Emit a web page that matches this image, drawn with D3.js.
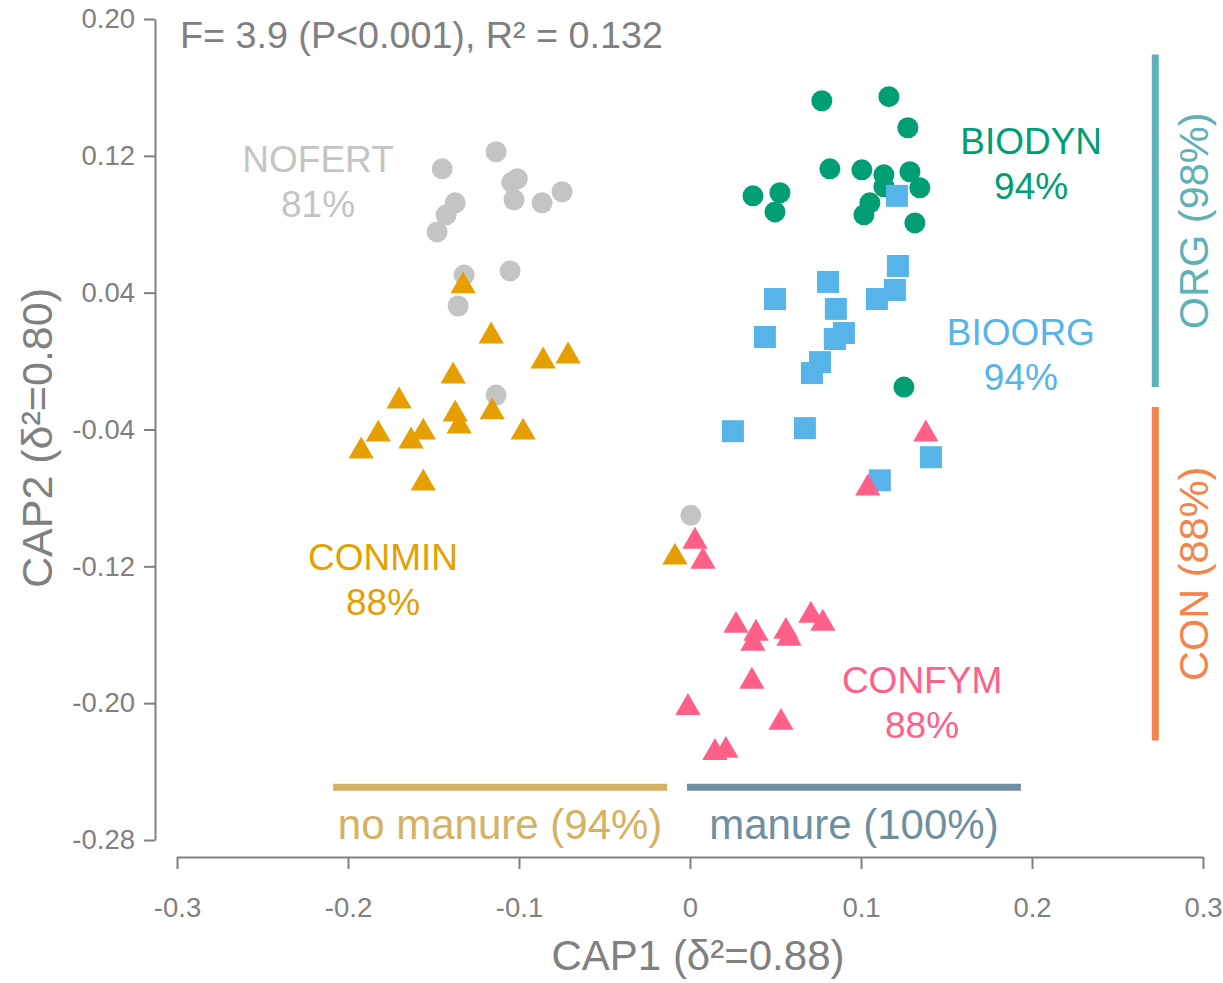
<!DOCTYPE html>
<html>
<head>
<meta charset="utf-8">
<script src="https://cdn.jsdelivr.net/npm/d3@7"></script>
<style>
  html, body { margin: 0; padding: 0; background: #ffffff; }
  svg { display: block; font-family: "Liberation Sans", Arial, Helvetica, sans-serif; }
</style>
</head>
<body>
<svg id="chart" width="1223" height="983"></svg>
<script>
// CAP ordination scores per treatment (CAP1, CAP2)
const nofert = [
  [-0.1449, 0.1124], [-0.1134, 0.1224], [-0.1043, 0.1045], [-0.1010, 0.1066],
  [-0.1029, 0.0943], [-0.0865, 0.0925], [-0.0748, 0.0990], [-0.1373, 0.0925],
  [-0.1426, 0.0855], [-0.1479, 0.0755], [-0.1321, 0.0504], [-0.1052, 0.0527],
  [-0.1356, 0.0322], [-0.1134, -0.0199], [0.0005, -0.0902]
];
const conmin = [
  [-0.1327, 0.0439], [-0.1163, 0.0146], [-0.0859, 0.0000], [-0.0713, 0.0029],
  [-0.1385, -0.0088], [-0.1701, -0.0234], [-0.1373, -0.0310], [-0.1157, -0.0298],
  [-0.1350, -0.0380], [-0.1560, -0.0416], [-0.1823, -0.0428], [-0.1631, -0.0468],
  [-0.1923, -0.0527], [-0.0976, -0.0416], [-0.1560, -0.0714], [-0.0088, -0.1147]
];
const biodyn = [
  [0.0771, 0.1522], [0.1163, 0.1546], [0.1274, 0.1364], [0.0368, 0.0966],
  [0.0526, 0.0984], [0.0497, 0.0872], [0.0818, 0.1124], [0.1005, 0.1118],
  [0.1134, 0.1089], [0.1286, 0.1107], [0.1134, 0.1019], [0.1344, 0.1013],
  [0.1052, 0.0925], [0.1017, 0.0855], [0.1315, 0.0808], [0.1251, -0.0152]
];
const bioorg = [
  [0.1210, 0.0966], [0.1216, 0.0556], [0.0807, 0.0463], [0.0497, 0.0363],
  [0.1198, 0.0416], [0.1093, 0.0363], [0.0853, 0.0305], [0.0900, 0.0164],
  [0.0847, 0.0129], [0.0438, 0.0141], [0.0760, -0.0006], [0.0713, -0.0070],
  [0.0251, -0.0410], [0.0672, -0.0392], [0.1409, -0.0562], [0.1110, -0.0697]
];
const confym = [
  [0.1379, -0.0427], [0.1040, -0.0743], [0.0029, -0.1054], [0.0076, -0.1171],
  [0.0269, -0.1546], [0.0386, -0.1592], [0.0368, -0.1651], [0.0561, -0.1581],
  [0.0579, -0.1622], [0.0707, -0.1487], [0.0777, -0.1534], [0.0362, -0.1873],
  [-0.0012, -0.2026], [0.0532, -0.2113], [0.0146, -0.2289], [0.0210, -0.2277]
];

// Treatment names, classification success and marker shape (drawing order)
const groupNames = ["NOFERT", "CONMIN", "BIODYN", "BIOORG", "CONFYM"];
const groupPct = ["81%", "88%", "94%", "94%", "88%"];
const groupData = [nofert, conmin, biodyn, bioorg, confym];
const groupShape = ["circle", "triangle", "circle", "square", "triangle"];
const groupColor = ["#c4c4c4", "#e69f00", "#009e73", "#56b4e9", "#ff6089"];
// Label anchor (CAP1, CAP2) for each treatment name
const groupLabelPos = [[-0.2175, 0.1106], [-0.1795, -0.1222], [0.1995, 0.1211], [0.1935, 0.0094], [0.1357, -0.1941]];

// Grouping bars: manure contrast along CAP1, system contrast along CAP2
const manureNames = ["no manure (94%)", "manure (100%)"];
const manureSpan = [[-0.2087, -0.0134], [-0.0018, 0.1935]];
const manureColor = ["#d5b162", "#6f8fa0"];
const manureLevel = -0.2491;
const systemNames = ["ORG (98%)", "CON (88%)"];
const systemSpan = [[0.1792, -0.0152], [-0.0269, -0.2219]];
const systemColor = ["#5eb2b5", "#f4844a"];
const systemLevel = 0.2721;

// Axis ticks
const xTicks = [-0.3, -0.2, -0.1, 0, 0.1, 0.2, 0.3];
const xTickLabels = ["-0.3", "-0.2", "-0.1", "0", "0.1", "0.2", "0.3"];
const yTicks = [0.20, 0.12, 0.04, -0.04, -0.12, -0.20, -0.28];
const yTickLabels = ["0.20", "0.12", "0.04", "-0.04", "-0.12", "-0.20", "-0.28"];

const statText = "F= 3.9 (P<0.001), R\u00b2 = 0.132";
const xTitle = "CAP1 (\u03b4\u00b2=0.88)";
const yTitle = "CAP2 (\u03b4\u00b2=0.80)";

const grey = "#808080";
const svg = d3.select("#chart");

const x = d3.scaleLinear().domain([-0.3, 0.3]).range([177, 1203]);
const y = d3.scaleLinear().domain([-0.28, 0.20]).range([840, 19]);

// Y axis
const yAxisX = 155;
const yAxis = svg.append("g")
  .attr("transform", `translate(${yAxisX},0)`)
  .call(d3.axisLeft(y).tickValues(yTicks)
    .tickFormat((d, i) => yTickLabels[i]).tickSize(11).tickSizeOuter(0).tickPadding(9));
yAxis.select(".domain").attr("stroke", grey).attr("stroke-width", 2);
yAxis.selectAll(".tick line").attr("stroke", grey).attr("stroke-width", 2);
yAxis.selectAll(".tick text").attr("fill", grey).attr("font-size", 27.5)
  .attr("font-family", "Liberation Sans, Arial, sans-serif");

// X axis
const xAxisY = 857;
const xAxis = svg.append("g")
  .attr("transform", `translate(0,${xAxisY})`)
  .call(d3.axisBottom(x).tickValues(xTicks)
    .tickFormat((d, i) => xTickLabels[i]).tickSize(12).tickSizeOuter(0).tickPadding(28));
xAxis.select(".domain").attr("stroke", grey).attr("stroke-width", 2);
xAxis.selectAll(".tick line").attr("stroke", grey).attr("stroke-width", 2);
xAxis.selectAll(".tick text").attr("fill", grey).attr("font-size", 27.5)
  .attr("font-family", "Liberation Sans, Arial, sans-serif");

// Axis titles
svg.append("text").attr("x", 698).attr("y", 970).attr("text-anchor", "middle")
  .attr("fill", grey).attr("font-size", 42).text(xTitle);
svg.append("text").attr("transform", "translate(52,438) rotate(-90)")
  .attr("text-anchor", "middle").attr("fill", grey).attr("font-size", 43).text(yTitle);

// Test statistic
svg.append("text").attr("x", 180).attr("y", 48).attr("fill", grey)
  .attr("font-size", 37.7).text(statText);

// Manure / no-manure bars and labels
manureSpan.forEach((s, i) => {
  svg.append("line")
    .attr("x1", x(s[0])).attr("x2", x(s[1]))
    .attr("y1", y(manureLevel)).attr("y2", y(manureLevel))
    .attr("stroke", manureColor[i]).attr("stroke-width", 7);
  svg.append("text")
    .attr("x", (x(s[0]) + x(s[1])) / 2).attr("y", 839)
    .attr("text-anchor", "middle").attr("fill", manureColor[i])
    .attr("font-size", 42).text(manureNames[i]);
});

// ORG / CON bars and labels
systemSpan.forEach((s, i) => {
  svg.append("line")
    .attr("x1", x(systemLevel)).attr("x2", x(systemLevel))
    .attr("y1", y(s[0])).attr("y2", y(s[1]))
    .attr("stroke", systemColor[i]).attr("stroke-width", 7);
  const cy = (y(s[0]) + y(s[1])) / 2;
  svg.append("text")
    .attr("transform", `translate(1208,${cy}) rotate(-90)`)
    .attr("text-anchor", "middle").attr("fill", systemColor[i])
    .attr("font-size", 41.5).text(systemNames[i]);
});

// Sample points
const symbolType = { circle: d3.symbolCircle, square: d3.symbolSquare, triangle: d3.symbolTriangle };
const symbolSize = { circle: Math.PI * 10.5 * 10.5, square: 22 * 22, triangle: 277 };
groupData.forEach((pts, gi) => {
  const sym = d3.symbol().type(symbolType[groupShape[gi]]).size(symbolSize[groupShape[gi]]);
  svg.append("g").selectAll("path").data(pts).join("path")
    .attr("d", sym)
    .attr("transform", d => `translate(${x(d[0])},${y(d[1])})`)
    .attr("fill", groupColor[gi]);
});

// Treatment labels with classification success
groupNames.forEach((name, i) => {
  const p = groupLabelPos[i];
  const t = svg.append("text")
    .attr("x", x(p[0])).attr("y", y(p[1]))
    .attr("text-anchor", "middle").attr("fill", groupColor[i])
    .attr("font-size", 37);
  t.append("tspan").attr("x", x(p[0])).attr("dy", 0).text(name);
  t.append("tspan").attr("x", x(p[0])).attr("dy", 45).text(groupPct[i]);
});
</script>
</body>
</html>
